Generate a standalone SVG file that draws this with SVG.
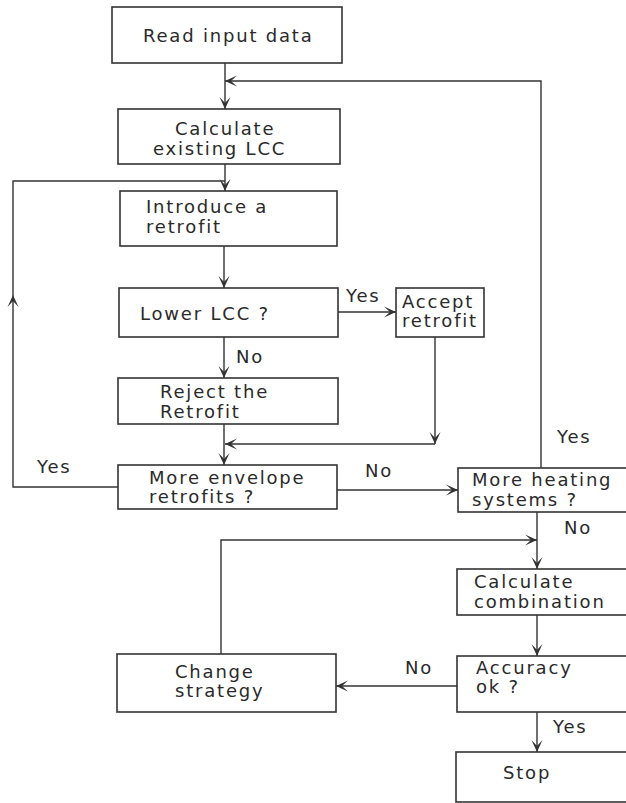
<svg xmlns="http://www.w3.org/2000/svg" width="626" height="803" viewBox="0 0 626 803">
<defs>
<style>
.box{fill:none;stroke:#333;stroke-width:1.6}
.ln{fill:none;stroke:#333;stroke-width:1.4}
.t{font-family:"DejaVu Sans","Liberation Sans",sans-serif;font-size:18px;letter-spacing:1.8px;fill:#2a2a2a}
</style>
<marker id="ah" viewBox="0 0 12 12" refX="12" refY="6" markerWidth="12" markerHeight="12" markerUnits="userSpaceOnUse" orient="auto">
<path d="M0,0.5 L12,6 L0,11.5 L6,6 Z" fill="#333"/>
</marker>
</defs>
<rect width="626" height="803" fill="#fff"/>
<g id="connectors">
<path class="ln" d="M225,63 V109" marker-end="url(#ah)"/>
<path class="ln" d="M541,468 V81 H225" marker-end="url(#ah)"/>
<path class="ln" d="M225,164 V191" marker-end="url(#ah)"/>
<path class="ln" d="M118,487 H13 V295" marker-end="url(#ah)"/>
<path class="ln" d="M13,295 V181 H225"/>
<path class="ln" d="M224,246 V288" marker-end="url(#ah)"/>
<path class="ln" d="M338,312 H396" marker-end="url(#ah)"/>
<path class="ln" d="M224,337 V378" marker-end="url(#ah)"/>
<path class="ln" d="M435,337 V444" marker-end="url(#ah)"/>
<path class="ln" d="M435,444 H225" marker-end="url(#ah)"/>
<path class="ln" d="M224,424 V465" marker-end="url(#ah)"/>
<path class="ln" d="M337,490 H458" marker-end="url(#ah)"/>
<path class="ln" d="M537,512 V569" marker-end="url(#ah)"/>
<path class="ln" d="M221,654 V540 H537" marker-end="url(#ah)"/>
<path class="ln" d="M537,615 V656" marker-end="url(#ah)"/>
<path class="ln" d="M457,686 H336" marker-end="url(#ah)"/>
<path class="ln" d="M537,712 V752" marker-end="url(#ah)"/>
<text class="t" x="346" y="302">Yes</text>
<text class="t" x="236" y="363">No</text>
<text class="t" x="37" y="473">Yes</text>
<text class="t" x="365" y="477">No</text>
<text class="t" x="557" y="443">Yes</text>
<text class="t" x="564" y="534">No</text>
<text class="t" x="405" y="674">No</text>
<text class="t" x="553" y="733">Yes</text>
</g>
<g id="read">
<rect class="box" x="112" y="7" width="230" height="56"/>
<text class="t" x="143" y="42">Read input data</text>
</g>
<g id="calc">
<rect class="box" x="118" y="109" width="222" height="55"/>
<text class="t" x="175" y="135">Calculate</text>
<text class="t" x="153" y="155">existing LCC</text>
</g>
<g id="intro">
<rect class="box" x="120" y="191" width="217" height="55"/>
<text class="t" x="146" y="213">Introduce a</text>
<text class="t" x="146" y="233">retrofit</text>
</g>
<g id="lower">
<rect class="box" x="119" y="288" width="219" height="49"/>
<text class="t" x="140" y="320">Lower LCC ?</text>
</g>
<g id="accept">
<rect class="box" x="396" y="288" width="88" height="49"/>
<text class="t" x="402" y="308">Accept</text>
<text class="t" x="402" y="327">retrofit</text>
</g>
<g id="reject">
<rect class="box" x="118" y="378" width="220" height="46"/>
<text class="t" x="160" y="398">Reject the</text>
<text class="t" x="160" y="418">Retrofit</text>
</g>
<g id="envelope">
<rect class="box" x="118" y="465" width="219" height="44"/>
<text class="t" x="149" y="484">More envelope</text>
<text class="t" x="149" y="503">retrofits ?</text>
</g>
<g id="heating">
<rect class="box" x="458" y="468" width="190" height="44"/>
<text class="t" x="472" y="486">More heating</text>
<text class="t" x="472" y="506">systems ?</text>
</g>
<g id="combination">
<rect class="box" x="457" y="569" width="190" height="46"/>
<text class="t" x="474" y="588">Calculate</text>
<text class="t" x="474" y="608">combination</text>
</g>
<g id="accuracy">
<rect class="box" x="457" y="656" width="190" height="56"/>
<text class="t" x="476" y="674">Accuracy</text>
<text class="t" x="476" y="693">ok ?</text>
</g>
<g id="change">
<rect class="box" x="117" y="654" width="219" height="58"/>
<text class="t" x="175" y="678">Change</text>
<text class="t" x="175" y="697">strategy</text>
</g>
<g id="stop">
<rect class="box" x="456" y="752" width="190" height="50"/>
<text class="t" x="503" y="779">Stop</text>
</g>
</svg>
